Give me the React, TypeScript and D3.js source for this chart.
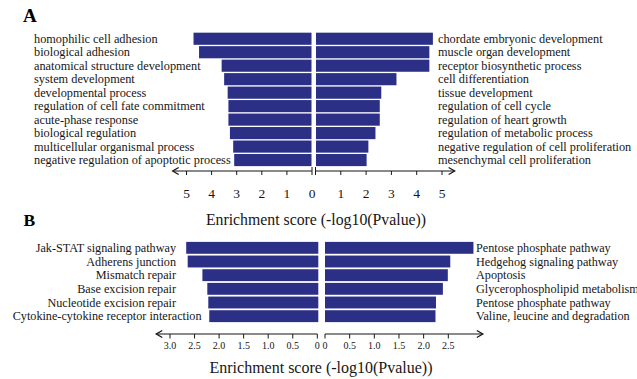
import React, { useEffect, useRef } from "react";
import * as d3 from "d3";

// ---- Panel A data ----
const aLeftTerms = [
  "homophilic cell adhesion",
  "biological adhesion",
  "anatomical structure development",
  "system development",
  "developmental process",
  "regulation of cell fate commitment",
  "acute-phase response",
  "biological regulation",
  "multicellular organismal process",
  "negative regulation of apoptotic process",
];
const aLeftValues = [4.72, 4.5, 3.6, 3.5, 3.36, 3.33, 3.33, 3.27, 3.14, 3.1];

const aRightTerms = [
  "chordate embryonic development",
  "muscle organ development",
  "receptor biosynthetic process",
  "cell differentiation",
  "tissue development",
  "regulation of cell cycle",
  "regulation of heart growth",
  "regulation of metabolic process",
  "negative regulation of cell proliferation",
  "mesenchymal cell proliferation",
];
const aRightValues = [4.64, 4.5, 4.5, 3.2, 2.6, 2.54, 2.54, 2.37, 2.09, 2.02];

const aTicks = [0, 1, 2, 3, 4, 5];

// ---- Panel B data ----
const bLeftTerms = [
  "Jak-STAT signaling pathway",
  "Adherens junction",
  "Mismatch repair",
  "Base excision repair",
  "Nucleotide excision repair",
  "Cytokine-cytokine receptor interaction",
];
const bLeftValues = [2.67, 2.64, 2.34, 2.24, 2.22, 2.2];

const bRightTerms = [
  "Pentose phosphate pathway",
  "Hedgehog signaling pathway",
  "Apoptosis",
  "Glycerophospholipid metabolism",
  "Pentose phosphate pathway ",
  "Valine, leucine and degradation",
];
const bRightValues = [3.01, 2.54, 2.49, 2.39, 2.25, 2.24];

const bLeftTicks = [0, 0.5, 1.0, 1.5, 2.0, 2.5, 3.0];
const bRightTicks = [0, 0.5, 1.0, 1.5, 2.0, 2.5];

const axisTitle = "Enrichment score (-log10(Pvalue))";

const W = 637;
const H = 379;
const BAR = "#2b2f86";
const INK = "#161616";
const FONT = "'Liberation Serif', 'Times New Roman', serif";

export default function App() {
  const ref = useRef<SVGSVGElement | null>(null);

  useEffect(() => {
    const svg = d3.select(ref.current);
    svg.selectAll("*").remove();
    svg.style("font-family", FONT);

    const arrowHead = (g: any, x: number, y: number, dir: number) => {
      g.append("path")
        .attr("d", `M${x - dir * 6},${y - 3.5} L${x},${y} L${x - dir * 6},${y + 3.5}`)
        .attr("fill", "none")
        .attr("stroke", INK)
        .attr("stroke-width", 1.3);
    };

    // ================= Panel A =================
    const gA = svg.append("g");
    gA.append("text").attr("x", 23).attr("y", 21.7).attr("font-size", 19).attr("font-weight", "bold").attr("fill", "#000").text("A");

    const yA = d3.scaleBand<string>().domain(d3.range(10).map(String)).range([32.0, 166.8]).paddingInner(0.1).paddingOuter(0.05);
    const xAL = d3.scaleLinear().domain([0, 5]).range([312, 186.5]);
    const xAR = d3.scaleLinear().domain([0, 5]).range([315.5, 442]);

    aLeftValues.forEach((v, i) => {
      const y = yA(String(i))!;
      gA.append("rect").attr("x", xAL(v)).attr("y", y).attr("width", xAL(0) - 0.5 - xAL(v)).attr("height", yA.bandwidth()).attr("fill", BAR);
      gA.append("text").attr("x", 34).attr("y", y + yA.bandwidth() / 2 + 4).attr("font-size", 12.3).attr("fill", INK).text(aLeftTerms[i]);
    });
    aRightValues.forEach((v, i) => {
      const y = yA(String(i))!;
      gA.append("rect").attr("x", xAR(0) + 0.5).attr("y", y).attr("width", xAR(v) - xAR(0) - 0.5).attr("height", yA.bandwidth()).attr("fill", BAR);
      gA.append("text").attr("x", 438).attr("y", y + yA.bandwidth() / 2 + 4).attr("font-size", 12.3).attr("fill", INK).text(aRightTerms[i]);
    });

    const axAY = 171;
    // left axis
    gA.append("line").attr("x1", xAL(5.55)).attr("x2", xAL(0)).attr("y1", axAY).attr("y2", axAY).attr("stroke", INK).attr("stroke-width", 1.2);
    arrowHead(gA, xAL(5.55), axAY, -1);
    gA.append("line").attr("x1", xAR(0)).attr("x2", xAR(5.5)).attr("y1", axAY).attr("y2", axAY).attr("stroke", INK).attr("stroke-width", 1.2);
    arrowHead(gA, xAR(5.5), axAY, 1);
    aTicks.forEach((t) => {
      [xAL, xAR].forEach((sc) => {
        const x = sc(t);
        gA.append("line").attr("x1", x).attr("x2", x).attr("y1", t === 0 ? axAY - 4 : axAY).attr("y2", axAY + 4).attr("stroke", INK).attr("stroke-width", 1);
      });
    });
    aTicks.forEach((t) => {
      gA.append("text").attr("x", xAL(t)).attr("y", 197.5).attr("text-anchor", "middle").attr("font-size", 13.5).attr("fill", INK).text(String(t));
      if (t > 0)
        gA.append("text").attr("x", xAR(t)).attr("y", 197.5).attr("text-anchor", "middle").attr("font-size", 13.5).attr("fill", INK).text(String(t));
    });
    gA.append("text").attr("x", 316).attr("y", 224.7).attr("text-anchor", "middle").attr("font-size", 15.8).attr("fill", INK).text(axisTitle);

    // ================= Panel B =================
    const gB = svg.append("g");
    gB.append("text").attr("x", 23.5).attr("y", 226.3).attr("font-size", 17.5).attr("font-weight", "bold").attr("fill", "#000").text("B");

    const yB = d3.scaleBand<string>().domain(d3.range(6).map(String)).range([241.0, 323.0]).paddingInner(0.13).paddingOuter(0.065);
    const xBL = d3.scaleLinear().domain([0, 3]).range([317.3, 170]);
    const xBR = d3.scaleLinear().domain([0, 2.5]).range([325, 448.3]);

    bLeftValues.forEach((v, i) => {
      const y = yB(String(i))!;
      gB.append("rect").attr("x", xBL(v)).attr("y", y).attr("width", xBL(0) + 1 - xBL(v)).attr("height", yB.bandwidth()).attr("fill", BAR);
      const t = gB.append("text").attr("x", 176).attr("y", y + yB.bandwidth() / 2 + 4).attr("text-anchor", "end").attr("font-size", 12.2).attr("fill", INK).text(bLeftTerms[i]);
      const len = (t.node() as SVGTextElement).getComputedTextLength();
      if (176 - len < 12.7) t.attr("text-anchor", "start").attr("x", 12.7);
    });
    bRightValues.forEach((v, i) => {
      const y = yB(String(i))!;
      gB.append("rect").attr("x", xBR(0)).attr("y", y).attr("width", xBR(v) - xBR(0)).attr("height", yB.bandwidth()).attr("fill", BAR);
      gB.append("text").attr("x", 476).attr("y", y + yB.bandwidth() / 2 + 4).attr("font-size", 12.2).attr("fill", INK).text(bRightTerms[i]);
    });

    const axBY = 334;
    gB.append("line").attr("x1", xBL(3.28)).attr("x2", xBL(0)).attr("y1", axBY).attr("y2", axBY).attr("stroke", INK).attr("stroke-width", 1.2);
    arrowHead(gB, xBL(3.28), axBY, -1);
    gB.append("line").attr("x1", xBR(0)).attr("x2", xBR(3.2)).attr("y1", axBY).attr("y2", axBY).attr("stroke", INK).attr("stroke-width", 1.2);
    arrowHead(gB, xBR(3.2), axBY, 1);
    bLeftTicks.forEach((t) => {
      const x = xBL(t);
      gB.append("line").attr("x1", x).attr("x2", x).attr("y1", axBY).attr("y2", axBY + 4.5).attr("stroke", INK).attr("stroke-width", 1);
      gB.append("text").attr("x", x).attr("y", 348.5).attr("text-anchor", "middle").attr("font-size", 10).attr("fill", INK).text(t === 0 ? "0" : t.toFixed(1));
    });
    bRightTicks.forEach((t) => {
      const x = xBR(t);
      gB.append("line").attr("x1", x).attr("x2", x).attr("y1", axBY).attr("y2", axBY + 4.5).attr("stroke", INK).attr("stroke-width", 1);
      gB.append("text").attr("x", x).attr("y", 348.5).attr("text-anchor", "middle").attr("font-size", 10).attr("fill", INK).text(t === 0 ? "0" : t.toFixed(1));
    });
    gB.append("text").attr("x", 321).attr("y", 373).attr("text-anchor", "middle").attr("font-size", 16).attr("fill", INK).text(axisTitle);
  }, []);

  return (
    <svg
      ref={ref}
      width={W}
      height={H}
      viewBox={`0 0 ${W} ${H}`}
      style={{ position: "absolute", left: 0, top: 0, background: "#fff", display: "block" }}
    />
  );
}
